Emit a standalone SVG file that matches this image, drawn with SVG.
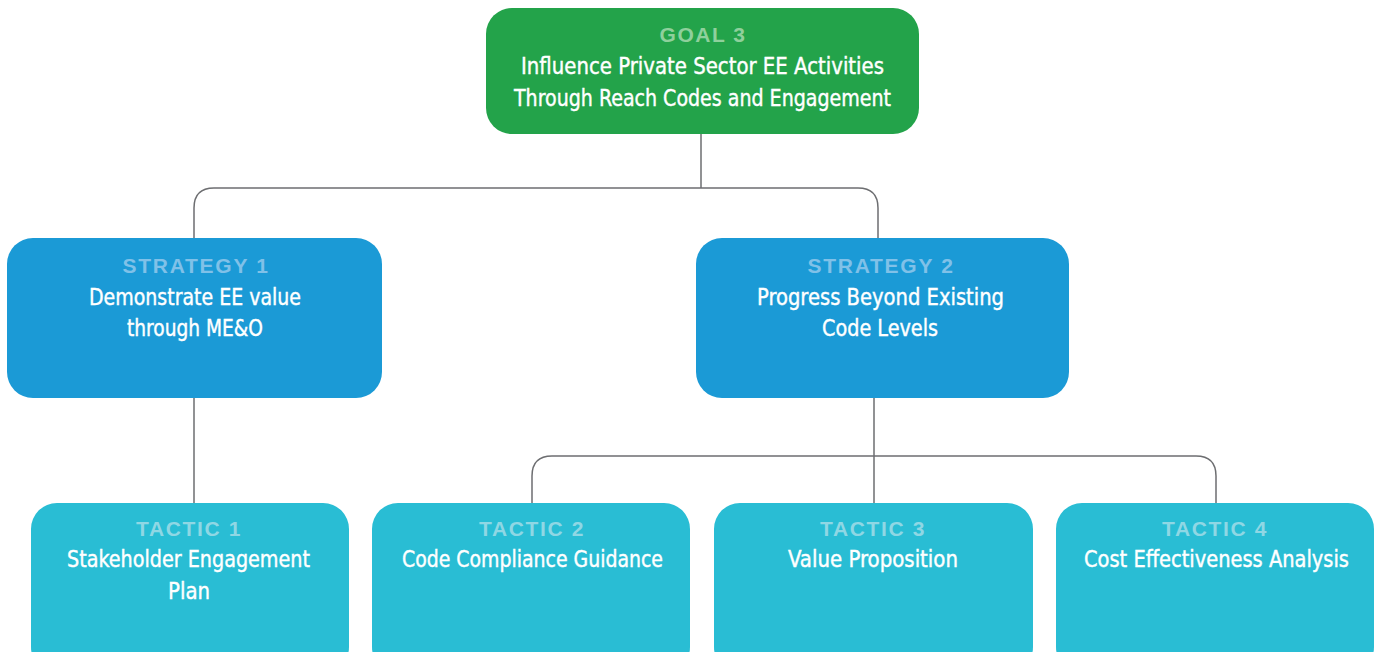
<svg xmlns="http://www.w3.org/2000/svg" width="1377" height="652" viewBox="0 0 1377 652">
<style>
.goal{fill:#23a34a}
.strat{fill:#1b9ad6}
.tac{fill:#29bdd4}
.lbl{font-family:"Liberation Sans","DejaVu Sans",sans-serif;font-weight:bold;font-size:21px;letter-spacing:1.5px;text-anchor:middle}
.txt{font-family:"DejaVu Sans Condensed","Liberation Sans Narrow",sans-serif;font-size:23px;fill:#ffffff;stroke:#ffffff;stroke-width:0.4;text-anchor:middle}
.gl{fill:#8fd09c}
.sl{fill:#80c1e8}
.tl{fill:#8fd7e4}
.conn{fill:none;stroke:#6d6e71;stroke-width:1.5}
</style>
<rect width="1377" height="652" fill="#ffffff"/>
<g id="connectors">
<path class="conn" d="M701 134 V188"/>
<path class="conn" d="M194 238 V208 Q194 188 214 188 H858 Q878 188 878 208 V238"/>
<path class="conn" d="M194 398 V503"/>
<path class="conn" d="M874 398 V503"/>
<path class="conn" d="M532 503 V476 Q532 456 552 456 H1196 Q1216 456 1216 476 V503"/>
</g>
<g id="goal3">
<rect class="goal" x="486" y="8" width="433" height="126" rx="26"/>
<text class="lbl gl" x="703" y="42" textLength="87">GOAL 3</text>
<text class="txt" x="702.5" y="74" textLength="363" lengthAdjust="spacingAndGlyphs">Influence Private Sector EE Activities</text>
<text class="txt" x="702.5" y="106" textLength="377" lengthAdjust="spacingAndGlyphs">Through Reach Codes and Engagement</text>
</g>
<g id="strategy1">
<rect class="strat" x="7" y="238" width="375" height="160" rx="26"/>
<text class="lbl sl" x="196" y="273" textLength="147">STRATEGY 1</text>
<text class="txt" x="195" y="305" textLength="212" lengthAdjust="spacingAndGlyphs">Demonstrate EE value</text>
<text class="txt" x="195" y="336" textLength="136" lengthAdjust="spacingAndGlyphs">through ME&amp;O</text>
</g>
<g id="strategy2">
<rect class="strat" x="696" y="238" width="373" height="160" rx="26"/>
<text class="lbl sl" x="881" y="273" textLength="147">STRATEGY 2</text>
<text class="txt" x="880.5" y="305" textLength="247" lengthAdjust="spacingAndGlyphs">Progress Beyond Existing</text>
<text class="txt" x="880" y="336" textLength="116" lengthAdjust="spacingAndGlyphs">Code Levels</text>
</g>
<g id="tactic1">
<rect class="tac" x="31" y="503" width="318" height="170" rx="26"/>
<text class="lbl tl" x="189" y="536" textLength="106">TACTIC 1</text>
<text class="txt" x="188.5" y="567" textLength="243" lengthAdjust="spacingAndGlyphs">Stakeholder Engagement</text>
<text class="txt" x="189" y="599" textLength="42" lengthAdjust="spacingAndGlyphs">Plan</text>
</g>
<g id="tactic2">
<rect class="tac" x="372" y="503" width="318" height="170" rx="26"/>
<text class="lbl tl" x="532" y="536" textLength="106">TACTIC 2</text>
<text class="txt" x="532.5" y="567" textLength="261" lengthAdjust="spacingAndGlyphs">Code Compliance Guidance</text>
</g>
<g id="tactic3">
<rect class="tac" x="714" y="503" width="319" height="170" rx="26"/>
<text class="lbl tl" x="873" y="536" textLength="106">TACTIC 3</text>
<text class="txt" x="873" y="567" textLength="170" lengthAdjust="spacingAndGlyphs">Value Proposition</text>
</g>
<g id="tactic4">
<rect class="tac" x="1056" y="503" width="318" height="170" rx="26"/>
<text class="lbl tl" x="1215" y="536" textLength="106">TACTIC 4</text>
<text class="txt" x="1216.5" y="567" textLength="265" lengthAdjust="spacingAndGlyphs">Cost Effectiveness Analysis</text>
</g>
</svg>
